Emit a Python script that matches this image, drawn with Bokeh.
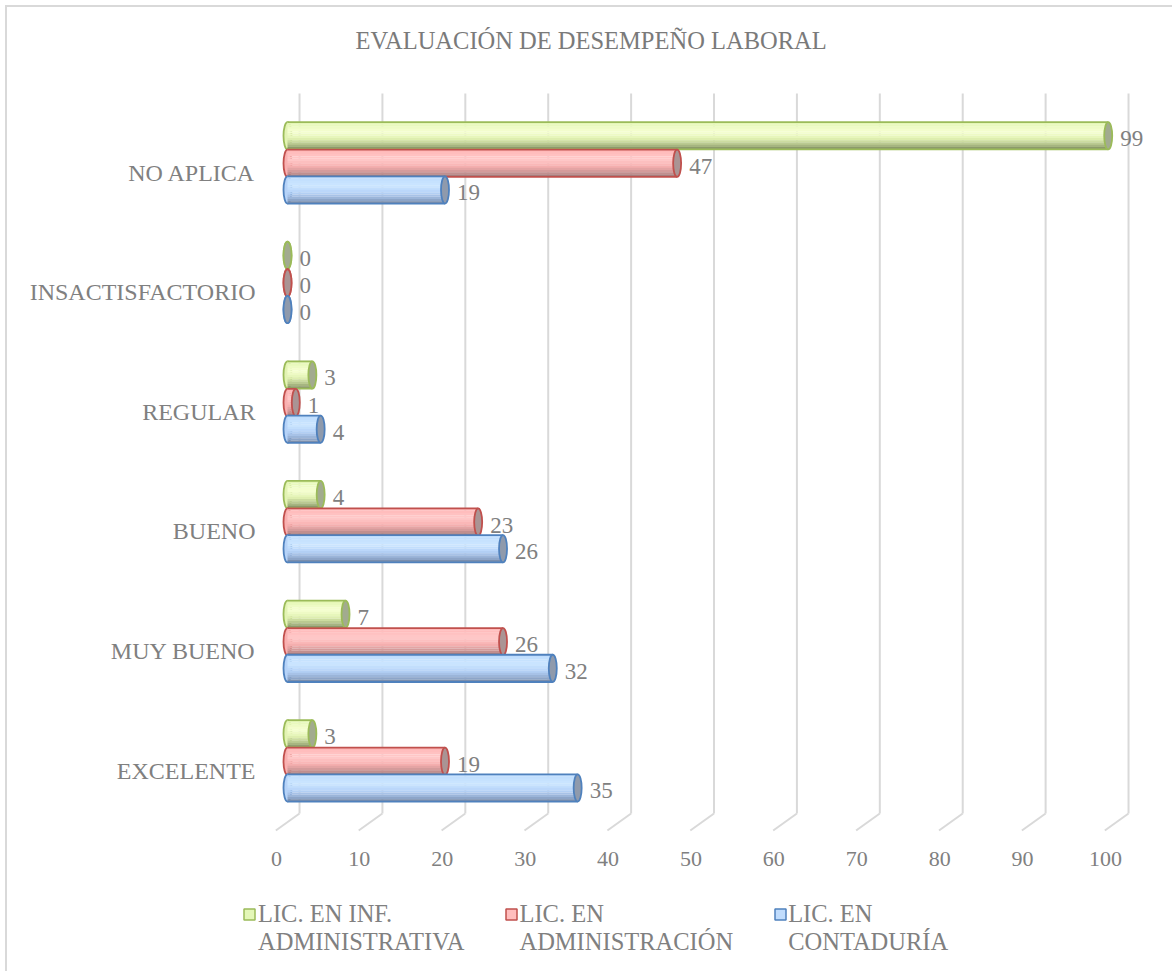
from bokeh.plotting import figure
from bokeh.layouts import column
from bokeh.models import (Range1d, LinearAxis, FixedTicker, Legend, LegendItem,
                          ColumnDataSource)
from bokeh.embed import file_html
from bokeh.resources import INLINE
from bokeh.core.properties import value

# ---------------- data ----------------
title_text = "EVALUACIÓN DE DESEMPEÑO LABORAL"
categories = ["EXCELENTE", "MUY BUENO", "BUENO", "REGULAR", "INSACTISFACTORIO", "NO APLICA"]
inf_administrativa = [3, 7, 4, 3, 0, 99]
administracion = [19, 26, 23, 1, 0, 47]
contaduria = [35, 32, 26, 4, 0, 19]
series_labels = ["LIC. EN INF.\nADMINISTRATIVA", "LIC. EN\nADMINISTRACIÓN", "LIC. EN\nCONTADURÍA"]
x_ticks = [0, 10, 20, 30, 40, 50, 60, 70, 80, 90, 100]

# ---------------- layout / styling ----------------
FONT = "Liberation Serif"
TXT = "#808080"
GRID = "#d9d9d9"
W, H1, H2 = 1172, 880, 91
FL, FR, FT, FB = 235, 1166, 10, 832          # frame edges in page pixels
PX0, SX = 287.0, 8.29                          # bar origin pixel, px per unit
PY0, SY = 770.0, 119.6                         # first category pixel, px per category
SWATCH_X = [249, 511, 780]                     # legend swatch centres (page px)
SWATCH_Y = 914


def ux(px):
    return (px - PX0) / SX


def uy(py):
    return (PY0 - py) / SY


def mix(c1, c2, t):
    a = [int(c1[i:i + 2], 16) for i in (1, 3, 5)]
    b = [int(c2[i:i + 2], 16) for i in (1, 3, 5)]
    return "#%02x%02x%02x" % tuple(round(a[k] + (b[k] - a[k]) * t) for k in range(3))


def shade(stops, f):
    for (f0, c0), (f1, c1) in zip(stops, stops[1:]):
        if f0 <= f <= f1:
            return mix(c0, c1, (f - f0) / (f1 - f0))
    return stops[-1][1]


BAR_H = 0.228
CAP_W = 0.965
NB = 12
styles = [
    # offset, outline, gradient stops (top -> bottom), cap, legend fill
    (0.307, "#9bbb59", [(0, "#e2f5b2"), (0.35, "#f6ffd2"), (0.6, "#e3f3b4"), (0.85, "#aebd86"), (1, "#7f8c60")],
     "#a2ab8f", "#e4f7b8"),
    (0.077, "#c0504d", [(0, "#ffb6b6"), (0.35, "#ffc9c9"), (0.6, "#f9b1b1"), (0.85, "#c99494"), (1, "#9a7373")],
     "#aa9494", "#ffbdbd"),
    (-0.146, "#4f81bd", [(0, "#bcdbfd"), (0.35, "#cce6ff"), (0.6, "#b6d3f8"), (0.85, "#93acd0"), (1, "#71839f")],
     "#8f9aac", "#c0dcfd"),
]
series_values = [inf_administrativa, administracion, contaduria]

p = figure(width=W, height=H1, x_range=Range1d(ux(FL), ux(FR)), y_range=Range1d(uy(FB), uy(FT)),
           output_backend="svg", toolbar_location=None, x_axis_location=None,
           min_border_left=FL, min_border_right=W - FR, min_border_top=FT,
           min_border_bottom=H1 - FB)
p.outline_line_color = None
p.grid.visible = False
p.background_fill_color = None
p.border_fill_color = None
p.styles = {"box-shadow": "inset 5px 5px 0 0 #ffffff, inset 7px 7px 0 0 #d9d9d9"}

# title (drawn inside the frame area above the wall)
p.text(x=[ux(355)], y=[uy(40)], text=[title_text], text_align="left", text_baseline="middle",
       text_font=value(FONT), text_font_size="24.5px", text_color="#7a7a7a")

# 3D back-wall gridlines and floor edges
gsrc = ColumnDataSource(dict(
    xb=[t + 1.45 for t in x_ticks],
    xf=[t - 1.41 for t in x_ticks],
    ytop=[uy(93)] * len(x_ticks),
    yb=[uy(813)] * len(x_ticks),
    yf=[uy(830)] * len(x_ticks),
))
p.segment(x0="xb", y0="yb", x1="xb", y1="ytop", source=gsrc, line_color=GRID, line_width=2)
p.segment(x0="xb", y0="yb", x1="xf", y1="yf", source=gsrc, line_color=GRID, line_width=2)

for vals, (off, outline, stops, cap, lfill) in zip(series_values, styles):
    y = [i + off for i in range(len(categories))]
    src = ColumnDataSource(dict(
        v=vals, y=y,
        y_top=[yy + BAR_H / 2 for yy in y],
        y_bot=[yy - BAR_H / 2 for yy in y],
        lbl=[str(v) for v in vals],
    ))
    p.ellipse(x=0, y="y", width=CAP_W, height=BAR_H, source=src,
              fill_color=stops[2][1], line_color=outline, line_width=1.8)
    for k in range(NB):
        f = (k + 0.5) / NB
        band = ColumnDataSource(dict(v=vals, yb=[yy + BAR_H * (0.5 - f) for yy in y]))
        p.hbar(y="yb", left=0, right="v", height=BAR_H / NB * 1.08, source=band,
               fill_color=shade(stops, f), line_color=None)
    p.segment(x0=0, y0="y_top", x1="v", y1="y_top", source=src, line_color=outline, line_width=1.8)
    p.segment(x0=0, y0="y_bot", x1="v", y1="y_bot", source=src, line_color=outline, line_width=1.8)
    p.ellipse(x="v", y="y", width=CAP_W, height=BAR_H, source=src,
              fill_color=cap, line_color=outline, line_width=1.8)
    p.text(x="v", y="y", text="lbl", source=src, x_offset=12, y_offset=3,
           text_align="left", text_baseline="middle", text_font=value(FONT),
           text_font_size="23px", text_color=TXT)

# y axis (categories)
p.yaxis.ticker = FixedTicker(ticks=list(range(len(categories))))
p.yaxis.major_label_overrides = {i: c for i, c in enumerate(categories)}
p.yaxis.axis_line_color = None
p.yaxis.major_tick_line_color = None
p.yaxis.minor_tick_line_color = None
p.yaxis.major_label_text_font = FONT
p.yaxis.major_label_text_font_size = "24px"
p.yaxis.major_label_text_color = TXT
p.yaxis.major_label_standoff = FL - 261

# x axis on the front edge of the floor
p.extra_x_ranges = {"front": Range1d(ux(FL) + 1.33, ux(FR) + 1.33)}
xax = LinearAxis(x_range_name="front", ticker=FixedTicker(ticks=x_ticks))
xax.axis_line_color = None
xax.major_tick_line_color = None
xax.minor_tick_line_color = None
xax.major_label_text_font = FONT
xax.major_label_text_font_size = "22px"
xax.major_label_text_color = TXT
xax.major_label_standoff = 13
p.add_layout(xax, "below")

# ---------------- legend strip ----------------
q = figure(width=W, height=H2, x_range=Range1d(FL, FR), y_range=Range1d(H1 + H2, H1),
           output_backend="svg", toolbar_location=None,
           x_axis_location=None, y_axis_location=None,
           min_border_left=FL, min_border_right=W - FR, min_border_top=0, min_border_bottom=0)
q.outline_line_color = None
q.grid.visible = False
q.border_fill_color = None
q.background_fill_color = None
q.styles = {"box-shadow": "inset 5px 0 0 0 #ffffff, inset 7px 0 0 0 #d9d9d9"}

# swatches aligned with the first line of each (two-line) legend label
sw = ColumnDataSource(dict(x=SWATCH_X, y=[SWATCH_Y] * 3,
                           fill=[s[4] for s in styles], line=[s[1] for s in styles]))
swatch = q.rect(x="x", y="y", width=11, height=11, width_units="screen", height_units="screen",
                source=sw, fill_color="fill", line_color="line", line_width=1.5)

legend_renderers = []
for (off, outline, stops, cap, lfill) in styles:
    # legend entries: glyph space kept, swatch drawn above at the first text line
    legend_renderers.append(q.hbar(y=[-100], left=[-100], right=[-99], height=1,
                                   fill_alpha=0, line_alpha=0))

legend = Legend(items=[LegendItem(label=l, renderers=[r]) for l, r in zip(series_labels, legend_renderers)],
                orientation="horizontal", location=(243 - FL, 15),
                label_text_font=FONT, label_text_font_size="24.5px", label_text_color=TXT,
                label_text_line_height=1.06,
                glyph_width=12, glyph_height=12, label_standoff=3, spacing=40,
                padding=0, margin=0, border_line_color=None, background_fill_alpha=0)
q.add_layout(legend)

layout = column(p, q, spacing=0)
open("out.html", "w").write(file_html(layout, INLINE))
